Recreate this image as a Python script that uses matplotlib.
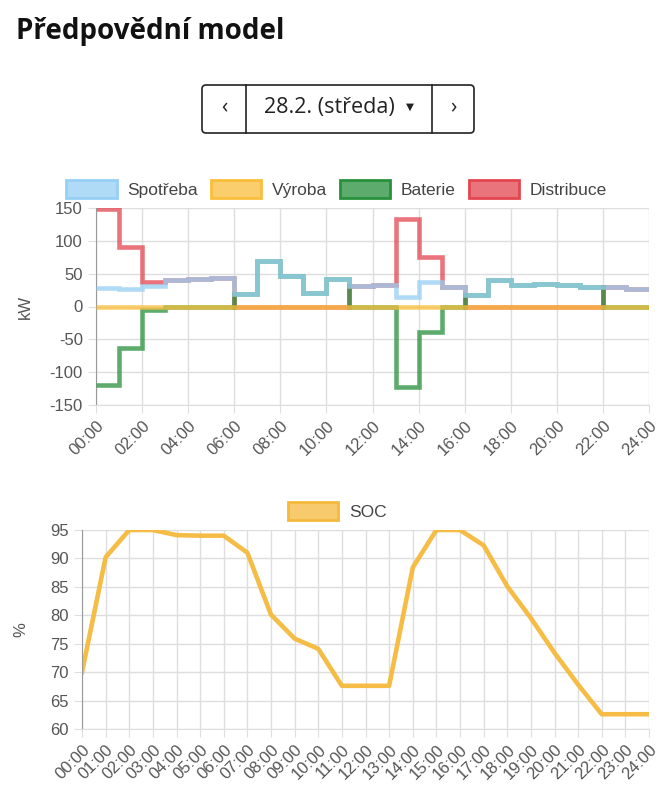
import matplotlib.pyplot as plt
from matplotlib.patches import Patch, FancyBboxPatch

plt.rcParams['font.family'] = ['Liberation Sans', 'DejaVu Sans']
plt.rcParams['axes.unicode_minus'] = False

# hodinove hodnoty (kW), interval h..h+1
hours = list(range(25))
spotreba = [28, 27, 31, 40, 42, 44, 19, 70, 46, 20, 42, 31,
            33, 15, 38, 29, 17, 40, 33, 35, 32, 30, 29, 26]
vyroba = [0] * 24
baterie = [-120, -63, -6, 0, 0, 0, 19, 70, 46, 20, 42, 0,
           0, -122, -39, 0, 17, 40, 33, 35, 32, 30, 0, 0]
distribuce = [148, 90, 37, 40, 42, 44, 0, 0, 0, 0, 0, 31,
              33, 134, 75, 29, 0, 0, 0, 0, 0, 0, 29, 26]

# stav baterie (%), v kazdou celou hodinu 0..24
soc = [70, 90.2, 95, 95, 94.1, 94, 94, 91, 80.1, 75.9, 74.1, 67.6, 67.6,
       67.6, 88.4, 95, 95, 92.3, 85.1, 79.5, 73.4, 67.8, 62.6, 62.6, 62.6]

labels_top = [f"{h:02d}:00" for h in hours[::2]]
labels_bottom = [f"{h:02d}:00" for h in hours]

W, H = 668, 800
fig = plt.figure(figsize=(W / 100, H / 100), dpi=100)

# overlay for header and button
over = fig.add_axes([0, 0, 1, 1])
over.set_xlim(0, W)
over.set_ylim(H, 0)
over.axis('off')
over.text(16, 32, "Předpovědní model", fontsize=20, fontweight='bold',
          va='center', ha='left', color='#111111', family=['Open Sans', 'DejaVu Sans'])
btn = FancyBboxPatch((202, 85), 272, 48, boxstyle="round,pad=0,rounding_size=4",
                     facecolor='white', edgecolor='#222222', linewidth=1.2)
over.add_patch(btn)
for xd in (246, 432):
    over.plot([xd, xd], [85, 133], color='#222222', linewidth=1.2)
over.text(224, 108, "‹", fontsize=15, ha='center', va='center', color='#222222',
          family=['Open Sans', 'DejaVu Sans'])
over.text(453, 108, "›", fontsize=15, ha='center', va='center', color='#222222',
          family=['Open Sans', 'DejaVu Sans'])
over.text(329, 108, "28.2. (středa)", fontsize=15.5, ha='center', va='center',
          color='#222222', family=['Open Sans', 'DejaVu Sans'])
over.text(410, 107, "▼", fontsize=7.5, ha='center', va='center', color='#222222',
          family=['DejaVu Sans'])

c_spot = (150 / 255, 208 / 255, 245 / 255)
c_vyr = (250 / 255, 190 / 255, 60 / 255)
c_bat = (40 / 255, 145 / 255, 60 / 255)
c_dis = (228 / 255, 70 / 255, 80 / 255)
c_soc = (245 / 255, 185 / 255, 60 / 255)

grid_c = '#dedede'
tick_c = '#555555'


def style_axes(ax):
    ax.grid(True, color=grid_c, linewidth=1)
    ax.set_axisbelow(True)
    for s in ('top', 'right'):
        ax.spines[s].set_visible(False)
    ax.spines['left'].set_color('#999999')
    ax.spines['bottom'].set_color(grid_c)
    ax.tick_params(colors=grid_c, labelcolor=tick_c, labelsize=12, length=6)


# horni graf
ax1 = fig.add_axes([96 / W, 1 - 405 / H, (649 - 96) / W, (405 - 208) / H])
series = [("Spotřeba", spotreba, c_spot, 5),
          ("Výroba", vyroba, c_vyr, 4),
          ("Baterie", baterie, c_bat, 3),
          ("Distribuce", distribuce, c_dis, 2)]
handles = []
for name, vals, col, z in series:
    ax1.stairs(vals, hours, baseline=None, color=col, alpha=0.75,
               linewidth=3.3, zorder=z)
    handles.append(Patch(facecolor=(*col, 0.75), edgecolor=col, linewidth=2,
                         label=name))
ax1.set_xlim(0, 24)
ax1.set_ylim(-150, 150)
ax1.set_yticks(range(-150, 151, 50))
ax1.set_xticks(hours[::2])
ax1.set_xticklabels(labels_top, rotation=45, ha='right', va='top',
                    rotation_mode='anchor')
ax1.set_ylabel("kW", color=tick_c, fontsize=12, labelpad=12)
style_axes(ax1)
ax1.legend(handles=handles, loc='lower center', bbox_to_anchor=(0.435, 1.0),
           ncol=4, frameon=False, fontsize=12.5, handlelength=2.9,
           handleheight=1.2, handletextpad=0.6, columnspacing=0.75,
           labelcolor='#444444', borderaxespad=0.2)

# dolni graf
ax2 = fig.add_axes([82 / W, 1 - 729 / H, (649 - 82) / W, (729 - 530) / H])
ax2.plot(hours, soc, color=c_soc, linewidth=3.3, alpha=0.95,
         solid_joinstyle='round')
ax2.set_xlim(0, 24)
ax2.set_ylim(60, 95)
ax2.set_yticks(range(60, 96, 5))
ax2.set_xticks(hours)
ax2.set_xticklabels(labels_bottom, rotation=45, ha='right', va='top',
                    rotation_mode='anchor')
ax2.set_ylabel("%", color=tick_c, fontsize=12, labelpad=16)
style_axes(ax2)
ax2.legend(handles=[Patch(facecolor=(*c_soc, 0.75), edgecolor=c_soc,
                          linewidth=2, label="SOC")],
           loc='lower center', bbox_to_anchor=(0.45, 1.0), frameon=False,
           fontsize=12.5, handlelength=2.9, handleheight=1.2, handletextpad=0.6,
           labelcolor='#444444', borderaxespad=0.2)

fig.savefig("out.png", dpi=100)
